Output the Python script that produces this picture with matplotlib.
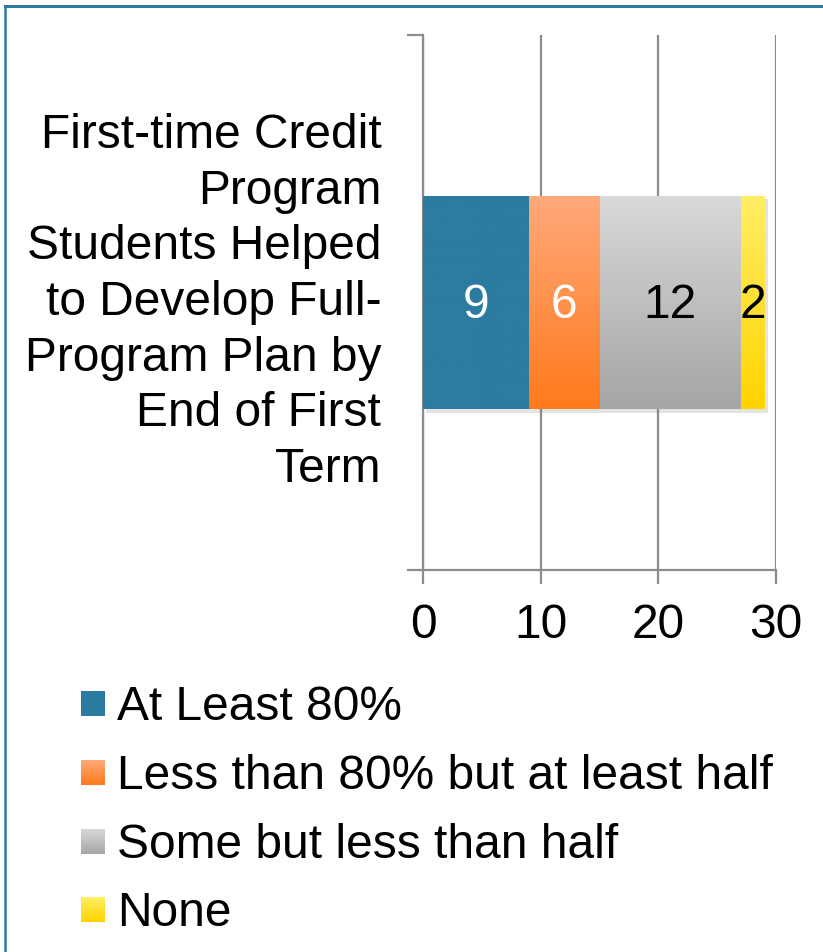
import numpy as np
import matplotlib
matplotlib.use("Agg")
import matplotlib.pyplot as plt
from matplotlib import patheffects
from matplotlib.lines import Line2D
from matplotlib.colors import to_rgba

# ---- data -------------------------------------------------------------
category = ("First-time Credit\nProgram\nStudents Helped\nto Develop Full-\n"
            "Program Plan by\nEnd of First\nTerm")
series_names = ["At Least 80%",
                "Less than 80% but at least half",
                "Some but less than half",
                "None"]
series_values = [9, 6, 12, 2]
x_ticks = [0, 10, 20, 30]

# ---- styling ----------------------------------------------------------
label_colors = ["white", "white", "black", "black"]
grad_top = ["#2C7BA0", "#FFA97B", "#D9D9D9", "#FFEE66"]
grad_bottom = ["#2C7BA0", "#FF7A1C", "#A5A5A5", "#FFD400"]
axis_gray = "#8C8C8C"
frame_color = "#2C7BA0"
FS = 34.5

plt.rcParams['font.family'] = ['Liberation Sans', 'DejaVu Sans']

W, H = 823, 952
fig = plt.figure(figsize=(W / 100, H / 100), dpi=100)


def gradient(top, bottom, n=256):
    t = np.linspace(0, 1, n)[:, None]
    c0 = np.array(to_rgba(top))
    c1 = np.array(to_rgba(bottom))
    img = c0 * (1 - t) + c1 * t
    return img[:, None, :]


ax = fig.add_axes([423 / W, 1 - 570 / H, (776 - 423) / W, (570 - 35) / H])
ax.set_xlim(x_ticks[0], x_ticks[-1])
ax.set_ylim(-0.5, 0.5)

bar_h = 0.4
lefts = np.concatenate([[0], np.cumsum(series_values)[:-1]])
shadow = [patheffects.SimplePatchShadow(offset=(2.5, -2.5), shadow_rgbFace="0.5",
                                        alpha=0.22),
          patheffects.Normal()]
for i, (name, val, left) in enumerate(zip(series_names, series_values, lefts)):
    cont = ax.barh(0, val, left=left, height=bar_h, color="none",
                   edgecolor="none", zorder=2, label=name)
    patch = cont.patches[0]
    patch.set_path_effects(shadow)
    x0, y0 = patch.get_x(), patch.get_y()
    im = ax.imshow(gradient(grad_top[i], grad_bottom[i]),
                   extent=(x0, x0 + patch.get_width(), y0, y0 + patch.get_height()),
                   origin="upper", aspect="auto", zorder=3, interpolation="bilinear")
    im.set_clip_path(patch)
    lab = ax.bar_label(cont, labels=[str(val)], label_type="center",
                       color=label_colors[i], fontsize=FS)
    for t in lab:
        t.set_zorder(4)
        t.xyann = (0, -2)

ax.set_xlim(x_ticks[0], x_ticks[-1])
ax.set_ylim(-0.5, 0.5)

# axes, ticks and grid
for s in ("top", "right"):
    ax.spines[s].set_visible(False)
for s in ("left", "bottom"):
    ax.spines[s].set_color(axis_gray)
    ax.spines[s].set_linewidth(1.6)

ax.set_xticks(x_ticks)
ax.set_xticklabels([str(v) for v in x_ticks])
ax.tick_params(axis="x", direction="out", length=10, width=1.6, color=axis_gray,
               labelsize=FS, pad=14)
ax.xaxis.grid(True, color=axis_gray, linewidth=1.6)
ax.set_axisbelow(True)

# category axis: boundary ticks only, category name beside the bar
ax.set_yticks([])
ax.set_yticks([-0.5, 0.5], minor=True)
ax.tick_params(axis="y", which="minor", direction="out", length=11.5, width=1.6,
               color=axis_gray)
ax.annotate(category, xy=(0, 0), xycoords=("axes fraction", "data"),
            xytext=(-30, 0), textcoords="offset points",
            ha="right", va="center", multialignment="right",
            fontsize=FS, linespacing=1.304)

# legend drawn as gradient swatches with labels
leg_baselines = [720, 789, 858, 926]
for i, name in enumerate(series_names):
    base = leg_baselines[i]
    yc = base - 16.5
    sax = fig.add_axes([81 / W, 1 - (yc + 12.5) / H, 24 / W, 25 / H])
    sax.imshow(gradient(grad_top[i], grad_bottom[i]), aspect="auto",
               interpolation="bilinear")
    sax.axis("off")
    fig.text(117 / W, 1 - base / H, name, fontsize=FS, va="baseline", ha="left")

# outer frame (left and top edges)
fig.add_artist(Line2D([5 / W, 5 / W], [0, 1 - 6 / H], transform=fig.transFigure,
                      color=frame_color, linewidth=1.8))
fig.add_artist(Line2D([5 / W, 1], [1 - 6 / H, 1 - 6 / H], transform=fig.transFigure,
                      color=frame_color, linewidth=2.2))

fig.savefig("out.png", dpi=100)
